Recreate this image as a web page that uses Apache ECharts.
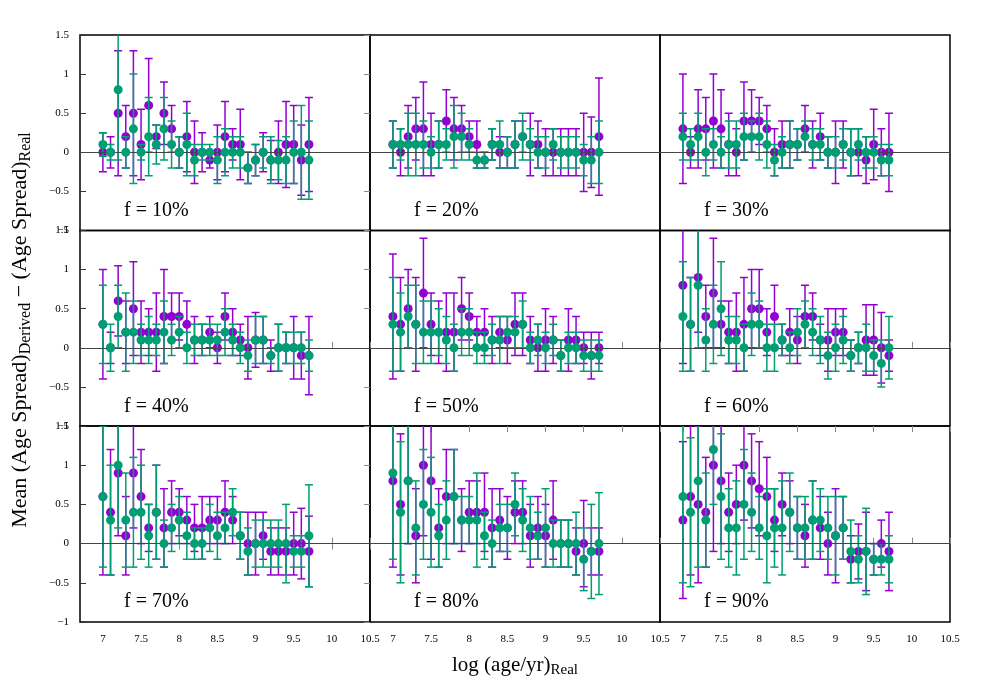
<!DOCTYPE html>
<html>
<head>
<meta charset="utf-8">
<script src="https://cdn.jsdelivr.net/npm/echarts@6/dist/echarts.min.js"></script>
<style>
html, body { margin: 0; padding: 0; background: #fff; }
#main { width: 1000px; height: 700px; }
</style>
</head>
<body>
<div id="main"></div>
<script>
// log(age/yr)_Real of every bin
var logAge = [7.0, 7.1, 7.2, 7.3, 7.4, 7.5, 7.6, 7.7, 7.8, 7.9, 8.0, 8.1, 8.2, 8.3,
              8.4, 8.5, 8.6, 8.7, 8.8, 8.9, 9.0, 9.1, 9.2, 9.3, 9.4, 9.5, 9.6, 9.7];
var xTicks = [7, 7.5, 8, 8.5, 9, 9.5, 10, 10.5];
var fractions = ['f = 10%', 'f = 20%', 'f = 30%', 'f = 40%', 'f = 50%', 'f = 60%', 'f = 70%', 'f = 80%', 'f = 90%'];

// f = 10%
var purpleVal10 = [0, 0, 0.5, 0.2, 0.5, 0.1, 0.6, 0.2, 0.5, 0.3, 0, 0.2, 0, 0, -0.1, 0, 0.2, 0.1, 0.1, -0.2, -0.1, 0, -0.1, 0, 0.1, 0.1, -0.1, 0.1];
var purpleErr10 = [0.25, 0.2, 0.8, 0.4, 0.8, 0.45, 0.6, 0.15, 0.4, 0.3, 0.2, 0.45, 0.4, 0.25, 0.1, 0.35, 0.45, 0.2, 0.45, 0.2, 0.2, 0.25, 0.25, 0.4, 0.55, 0.5, 0.45, 0.6];
var greenVal10 = [0.1, 0, 0.8, 0, 0.3, 0, 0.2, 0.1, 0.3, 0.1, 0, 0.1, -0.1, 0, 0, -0.1, 0, 0, 0, -0.2, -0.1, 0, -0.1, -0.1, -0.1, 0, 0, -0.1];
var greenErr10 = [0.15, 0.1, 0.9, 0.2, 0.7, 0.1, 0.5, 0.25, 0.4, 0.3, 0.2, 0.4, 0.2, 0.1, 0.1, 0.3, 0.3, 0.2, 0.2, 0.2, 0.2, 0.2, 0.3, 0.25, 0.3, 0.4, 0.6, 0.5];

// f = 20%
var purpleVal20 = [0.1, 0, 0.2, 0.3, 0.3, 0.1, 0.1, 0.4, 0.3, 0.3, 0.2, 0.1, -0.1, 0.1, 0, 0, 0.1, 0.2, 0.1, 0.1, 0, 0, 0, 0, 0, 0, 0, 0.2];
var purpleErr20 = [0.3, 0.3, 0.4, 0.4, 0.6, 0.4, 0.3, 0.4, 0.4, 0.3, 0.2, 0.3, 0.1, 0.2, 0.2, 0.2, 0.3, 0.2, 0.4, 0.3, 0.3, 0.3, 0.3, 0.3, 0.3, 0.5, 0.45, 0.75];
var greenVal20 = [0.1, 0.1, 0.1, 0.1, 0.1, 0, 0.1, 0.1, 0.2, 0.2, 0.1, -0.1, -0.1, 0.1, 0.1, 0, 0.1, 0.2, 0.1, 0, 0, 0.1, 0, 0, 0, -0.1, -0.1, 0];
var greenErr20 = [0.3, 0.2, 0.4, 0.4, 0.3, 0.2, 0.3, 0.2, 0.4, 0.3, 0.2, 0.1, 0.1, 0.2, 0.3, 0.2, 0.3, 0.3, 0.2, 0.2, 0.2, 0.2, 0.2, 0.2, 0.2, 0.2, 0.3, 0.4];

// f = 30%
var purpleVal30 = [0.3, 0, 0.3, 0.3, 0.4, 0.3, 0.1, 0, 0.4, 0.4, 0.4, 0.3, 0, 0.1, 0.1, 0.1, 0.3, 0.1, 0.2, 0, 0, 0.1, 0, 0, -0.1, 0.1, 0, 0];
var purpleErr30 = [0.7, 0.2, 0.5, 0.4, 0.6, 0.5, 0.4, 0.3, 0.5, 0.4, 0.3, 0.3, 0.3, 0.3, 0.3, 0.2, 0.3, 0.3, 0.3, 0.2, 0.4, 0.3, 0.3, 0.3, 0.3, 0.45, 0.3, 0.5];
var greenVal30 = [0.2, 0.1, 0.2, 0, 0.1, 0, 0.1, 0.1, 0.2, 0.2, 0.2, 0.1, -0.1, 0, 0.1, 0.1, 0.2, 0.1, 0.1, 0, 0, 0.1, 0, 0.1, 0, 0, -0.1, -0.1];
var greenErr30 = [0.3, 0.2, 0.3, 0.3, 0.2, 0.2, 0.3, 0.3, 0.3, 0.2, 0.3, 0.3, 0.2, 0.2, 0.3, 0.2, 0.2, 0.2, 0.2, 0.2, 0.2, 0.2, 0.3, 0.2, 0.2, 0.2, 0.2, 0.2];

// f = 40%
var purpleVal40 = [0.3, 0, 0.6, 0.2, 0.5, 0.2, 0.2, 0.2, 0.4, 0.4, 0.4, 0.3, 0.1, 0.1, 0.2, 0, 0.4, 0.2, 0.1, 0, 0.1, 0.1, -0.1, 0, 0, 0, -0.1, -0.1];
var purpleErr40 = [0.7, 0.2, 0.45, 0.4, 0.6, 0.4, 0.3, 0.5, 0.6, 0.3, 0.3, 0.3, 0.3, 0.2, 0.2, 0.2, 0.3, 0.3, 0.2, 0.4, 0.35, 0.3, 0.2, 0.3, 0.2, 0.4, 0.3, 0.5];
var greenVal40 = [0.3, 0, 0.4, 0.2, 0.2, 0.1, 0.1, 0.1, 0.2, 0.1, 0.2, 0, 0.1, 0.1, 0.1, 0.1, 0.2, 0.1, 0, -0.1, 0.1, 0.1, -0.1, 0, 0, 0, 0, -0.1];
var greenErr40 = [0.5, 0.3, 0.4, 0.5, 0.4, 0.2, 0.3, 0.2, 0.4, 0.2, 0.2, 0.2, 0.2, 0.2, 0.2, 0.2, 0.3, 0.2, 0.2, 0.2, 0.3, 0.3, 0.1, 0.3, 0.2, 0.2, 0.2, 0.2];

// f = 50%
var purpleVal50 = [0.4, 0.3, 0.5, 0.3, 0.7, 0.3, 0.2, 0.2, 0.2, 0.5, 0.4, 0.2, 0.2, 0.1, 0.2, 0.1, 0.3, 0.3, 0.1, 0, 0.1, 0.1, -0.1, 0.1, 0.1, 0, -0.1, 0];
var purpleErr50 = [0.8, 0.6, 0.5, 0.6, 0.7, 0.4, 0.4, 0.5, 0.5, 0.4, 0.3, 0.2, 0.3, 0.3, 0.2, 0.3, 0.4, 0.4, 0.3, 0.3, 0.4, 0.3, 0.2, 0.4, 0.3, 0.2, 0.3, 0.2];
var greenVal50 = [0.3, 0.2, 0.4, 0.3, 0.2, 0.2, 0.2, 0.1, 0, 0.2, 0.2, 0, 0, 0.1, 0.1, 0.2, 0.2, 0.3, 0, 0.1, 0, 0.1, -0.1, 0, 0, -0.1, -0.1, -0.1];
var greenErr50 = [0.6, 0.5, 0.4, 0.5, 0.4, 0.4, 0.3, 0.3, 0.3, 0.3, 0.3, 0.2, 0.2, 0.2, 0.3, 0.2, 0.2, 0.3, 0.2, 0.2, 0.2, 0.2, 0.2, 0.2, 0.2, 0.2, 0.2, 0.2];

// f = 60%
var purpleVal60 = [0.8, 0.3, 0.9, 0.4, 0.7, 0.3, 0.2, 0.2, 0.3, 0.5, 0.5, 0.2, 0.4, 0.1, 0.2, 0.1, 0.4, 0.4, 0.1, 0.1, 0.2, 0.2, -0.1, 0, 0.1, 0.1, 0, -0.1];
var purpleErr60 = [1.0, 0.6, 0.7, 0.4, 0.7, 0.3, 0.4, 0.5, 0.6, 0.5, 0.5, 0.3, 0.4, 0.2, 0.3, 0.3, 0.4, 0.3, 0.2, 0.4, 0.3, 0.3, 0.2, 0.2, 0.45, 0.45, 0.45, 0.2];
var greenVal60 = [0.4, 0.3, 0.8, 0.1, 0.3, 0.5, 0.1, 0.1, 0, 0.3, 0.3, 0, 0, 0.1, 0, 0.2, 0.3, 0.2, 0.1, -0.1, 0, 0.1, -0.1, 0, 0, -0.1, -0.2, 0];
var greenErr60 = [0.7, 0.6, 0.8, 0.4, 0.5, 0.6, 0.3, 0.3, 0.3, 0.4, 0.3, 0.3, 0.3, 0.2, 0.2, 0.3, 0.3, 0.3, 0.3, 0.3, 0.3, 0.3, 0.2, 0.2, 0.3, 0.2, 0.3, 0.4];

// f = 70%
var purpleVal70 = [0.6, 0.4, 0.9, 0.1, 0.9, 0.6, 0.2, 0.4, 0.2, 0.4, 0.4, 0.3, 0.2, 0.2, 0.3, 0.3, 0.4, 0.3, 0.1, 0, 0, 0.1, -0.1, -0.1, -0.1, 0, 0, -0.1];
var purpleErr70 = [1.0, 0.8, 0.8, 0.5, 0.7, 0.6, 0.3, 0.6, 0.5, 0.4, 0.3, 0.3, 0.3, 0.4, 0.3, 0.3, 0.4, 0.3, 0.3, 0.4, 0.4, 0.3, 0.3, 0.3, 0.3, 0.4, 0.45, 0.45];
var greenVal70 = [0.6, 0.3, 1.0, 0.3, 0.4, 0.4, 0.1, 0.4, 0, 0.2, 0.3, 0.1, 0, 0, 0.2, 0.1, 0.2, 0.4, 0.1, -0.1, 0, 0, 0, 0, 0, -0.1, -0.1, 0.1];
var greenErr70 = [0.9, 0.7, 0.8, 0.6, 0.7, 0.6, 0.4, 0.6, 0.3, 0.3, 0.3, 0.3, 0.2, 0.2, 0.3, 0.3, 0.2, 0.3, 0.3, 0.3, 0.3, 0.3, 0.3, 0.3, 0.5, 0.2, 0.2, 0.65];

// f = 80%
var purpleVal80 = [0.8, 0.5, 0.8, 0.1, 1.0, 0.8, 0.2, 0.6, 0.6, 0.3, 0.4, 0.4, 0.4, 0.2, 0.3, 0.2, 0.4, 0.4, 0.1, 0.2, 0.1, 0.3, 0, 0, -0.1, 0, -0.1, -0.1];
var purpleErr80 = [1.1, 0.9, 0.8, 0.6, 0.9, 1.0, 0.5, 0.6, 0.6, 0.4, 0.4, 0.4, 0.5, 0.5, 0.4, 0.4, 0.4, 0.4, 0.4, 0.4, 0.4, 0.5, 0.3, 0.3, 0.3, 0.55, 0.3, 0.3];
var greenVal80 = [0.9, 0.4, 0.8, 0.2, 0.5, 0.4, 0.1, 0.3, 0.6, 0.3, 0.3, 0.3, 0.1, 0, 0.2, 0.2, 0.5, 0.3, 0.2, 0.1, 0.2, 0, 0, 0, 0, -0.2, -0.1, 0];
var greenErr80 = [1.1, 0.9, 0.8, 0.6, 0.7, 0.7, 0.4, 0.5, 0.6, 0.3, 0.3, 0.6, 0.3, 0.3, 0.3, 0.3, 0.4, 0.4, 0.4, 0.3, 0.5, 0.3, 0.3, 0.3, 0.4, 0.4, 0.6, 0.65];

// f = 90%
var purpleVal90 = [0.3, 0.6, 0.5, 0.4, 1.0, 0.8, 0.4, 0.5, 1.0, 0.8, 0.7, 0.6, 0.3, 0.5, 0.4, 0.2, 0.1, 0.3, 0.2, 0, 0.1, 0.2, -0.2, -0.1, -0.1, -0.2, 0, -0.1];
var purpleErr90 = [1.0, 1.0, 1.0, 0.7, 1.1, 0.8, 0.5, 0.5, 0.7, 0.6, 0.6, 0.5, 0.4, 0.4, 0.4, 0.4, 0.4, 0.5, 0.4, 0.4, 0.6, 0.4, 0.3, 0.35, 0.5, 0.2, 0.3, 0.5];
var greenVal90 = [0.6, 0.4, 0.8, 0.3, 1.2, 0.6, 0.2, 0.2, 0.5, 0.4, 0.2, 0.1, 0.2, 0.2, 0.4, 0.2, 0.2, 0.3, 0.3, 0.2, 0.1, 0.2, -0.1, -0.2, -0.1, -0.2, -0.2, -0.2];
var greenErr90 = [1.1, 0.95, 1.1, 0.6, 0.7, 0.8, 0.5, 0.6, 0.7, 0.5, 0.4, 0.6, 0.5, 0.6, 0.5, 0.4, 0.4, 0.5, 0.4, 0.4, 0.5, 0.4, 0.4, 0.3, 0.55, 0.2, 0.2, 0.3];

var panels = [
  [purpleVal10, purpleErr10, greenVal10, greenErr10],
  [purpleVal20, purpleErr20, greenVal20, greenErr20],
  [purpleVal30, purpleErr30, greenVal30, greenErr30],
  [purpleVal40, purpleErr40, greenVal40, greenErr40],
  [purpleVal50, purpleErr50, greenVal50, greenErr50],
  [purpleVal60, purpleErr60, greenVal60, greenErr60],
  [purpleVal70, purpleErr70, greenVal70, greenErr70],
  [purpleVal80, purpleErr80, greenVal80, greenErr80],
  [purpleVal90, purpleErr90, greenVal90, greenErr90]
];

var PURPLE = '#9400d3';
var GREEN = '#009e73';
var FONT = '"Liberation Serif", "DejaVu Serif", serif';

var colLeft = [80, 370, 660];
var rowTop = [35, 230.5, 426];
var rowH = [195.5, 195.5, 196];
var panelW = 290;

var chart = echarts.init(document.getElementById('main'));

function fmtNum(v) {
  return v < 0 ? '\u2212' + Math.abs(v) : String(v);
}

function barRenderer(color) {
  return function (params, api) {
    var x = api.value(0);
    var lo = api.coord([x, api.value(1)]);
    var hi = api.coord([x, api.value(2)]);
    var w = 4;
    var st = { stroke: color, lineWidth: 1.5 };
    return {
      type: 'group',
      children: [
        { type: 'line', shape: { x1: lo[0], y1: lo[1], x2: hi[0], y2: hi[1] }, style: st },
        { type: 'line', shape: { x1: lo[0] - w, y1: lo[1], x2: lo[0] + w, y2: lo[1] }, style: st },
        { type: 'line', shape: { x1: hi[0] - w, y1: hi[1], x2: hi[0] + w, y2: hi[1] }, style: st }
      ]
    };
  };
}

function barData(vals, errs) {
  return logAge.map(function (x, i) {
    return [x, vals[i] - errs[i], vals[i] + errs[i]];
  });
}

function pointData(vals) {
  return logAge.map(function (x, i) { return [x, vals[i]]; });
}

var grids = [], xAxes = [], yAxes = [], series = [], graphics = [];

panels.forEach(function (p, k) {
  var r = Math.floor(k / 3), c = k % 3;
  grids.push({
    left: colLeft[c], top: rowTop[r], width: panelW, height: rowH[r],
    show: true, borderColor: '#000', borderWidth: 1.5, backgroundColor: 'transparent'
  });

  // bottom x axis
  var xi = xAxes.length;
  xAxes.push({
    type: 'value', gridIndex: k, min: 6.7, max: 10.5,
    axisLine: { show: false }, splitLine: { show: false },
    axisTick: { show: r >= 1, inside: true, length: 6, customValues: xTicks, lineStyle: { color: '#888' } },
    axisLabel: {
      show: r === 2, customValues: xTicks, margin: 12,
      fontFamily: FONT, fontSize: 11, color: '#000'
    }
  });
  if (r === 2) {
    xAxes.push({
      type: 'value', gridIndex: k, position: 'top', min: 6.7, max: 10.5,
      axisLine: { show: false }, splitLine: { show: false },
      axisTick: { show: true, inside: true, length: 6, customValues: xTicks, lineStyle: { color: '#888' } },
      axisLabel: { show: false }
    });
  }

  var yi = yAxes.length;
  yAxes.push({
    type: 'value', gridIndex: k, min: -1, max: 1.5, interval: 0.5,
    axisLine: { show: false }, splitLine: { show: false },
    axisTick: { show: c === 0, inside: true, length: 6, lineStyle: { color: '#333' } },
    axisLabel: {
      show: c === 0, margin: 11, formatter: fmtNum,
      fontFamily: FONT, fontSize: 11, color: '#000'
    }
  });
  if (c === 0) {
    yAxes.push({
      type: 'value', gridIndex: k, position: 'right', min: -1, max: 1.5, interval: 0.5,
      axisLine: { show: false }, splitLine: { show: false },
      axisTick: { show: true, inside: true, length: 6, lineStyle: { color: '#888' } },
      axisLabel: { show: false }
    });
  }

  series.push({
    type: 'custom', xAxisIndex: xi, yAxisIndex: yi, clip: true, z: 2,
    renderItem: barRenderer(PURPLE),
    data: barData(p[0], p[1]),
    markLine: {
      silent: true, symbol: 'none', animation: false,
      label: { show: false },
      lineStyle: { color: '#444', width: 1, type: 'solid' },
      data: [{ yAxis: 0 }]
    }
  });
  series.push({
    type: 'scatter', xAxisIndex: xi, yAxisIndex: yi, z: 3,
    symbolSize: 9, itemStyle: { color: PURPLE, opacity: 1 },
    data: pointData(p[0])
  });
  series.push({
    type: 'custom', xAxisIndex: xi, yAxisIndex: yi, clip: true, z: 4,
    renderItem: barRenderer(GREEN),
    data: barData(p[2], p[3])
  });
  series.push({
    type: 'scatter', xAxisIndex: xi, yAxisIndex: yi, z: 5,
    symbolSize: 9, itemStyle: { color: GREEN, opacity: 1 },
    data: pointData(p[2])
  });

  graphics.push({
    type: 'text', left: colLeft[c] + 44, top: rowTop[r] + 166, z: 10,
    style: { text: fractions[k], fontFamily: FONT, fontSize: 20, fill: '#000' }
  });
});

graphics.push({
  type: 'text', x: 20, y: 330, rotation: Math.PI / 2, z: 10,
  style: {
    text: '{m|Mean (Age Spread)}{s|Derived}{m| \u2212 (Age Spread)}{s|Real}',
    align: 'center', verticalAlign: 'middle',
    rich: {
      m: { fontFamily: FONT, fontSize: 22, lineHeight: 27, fill: '#000' },
      s: { fontFamily: FONT, fontSize: 16, lineHeight: 16, verticalAlign: 'bottom', fill: '#000' }
    }
  }
});
graphics.push({
  type: 'text', x: 515, y: 665, z: 10,
  style: {
    text: '{m|log (age/yr)}{s|Real}',
    align: 'center', verticalAlign: 'middle',
    rich: {
      m: { fontFamily: FONT, fontSize: 21, lineHeight: 26, fill: '#000' },
      s: { fontFamily: FONT, fontSize: 15, lineHeight: 15, verticalAlign: 'bottom', fill: '#000' }
    }
  }
});

chart.setOption({
  animation: false,
  backgroundColor: '#fff',
  grid: grids,
  xAxis: xAxes,
  yAxis: yAxes,
  series: series,
  graphic: graphics
});
</script>
</body>
</html>
